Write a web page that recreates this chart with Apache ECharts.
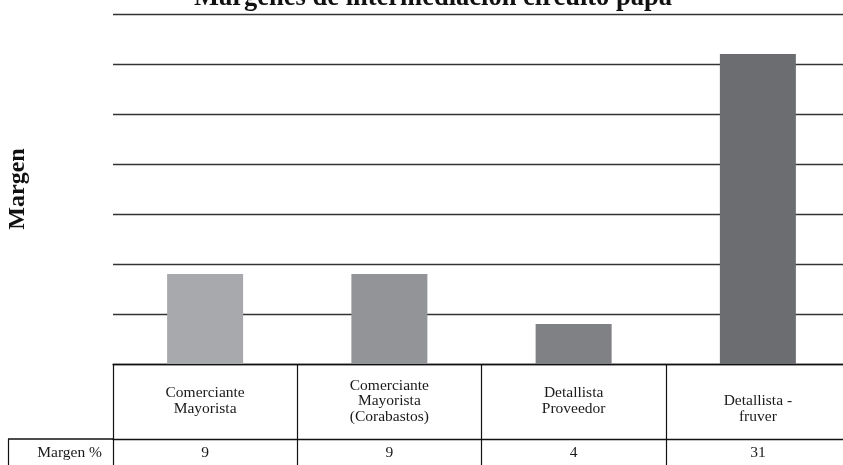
<!DOCTYPE html>
<html>
<head>
<meta charset="utf-8">
<script src="https://cdn.jsdelivr.net/npm/echarts@6/dist/echarts.min.js"></script>
<style>
  html, body { margin: 0; padding: 0; background: #ffffff; }
  #chart { width: 843px; height: 465px; }
</style>
</head>
<body>
<div id="chart"></div>
<script>
// Actors along the potato supply chain and their intermediation margin (%)
const categories = [
  'Comerciante\nMayorista',
  'Comerciante\nMayorista\n(Corabastos)',
  'Detallista\nProveedor',
  'Detallista -\nfruver'
];
const margins = [9, 9, 4, 31];
const barColors = ['#A8A9AC', '#939497', '#808184', '#6C6D71'];
const rowLabel = 'Margen %';
const chartTitle = 'Márgenes de intermediación circuito papa';
const axisTitle = 'Margen';
const yMax = 35;
const yStep = 5;

const serif = '"Liberation Serif", "Times New Roman", serif';
const ink = '#1a1a1a';

const chart = echarts.init(document.getElementById('chart'), null, { renderer: 'canvas' });

const lastCategory = categories[categories.length - 1];

chart.setOption({
  animation: false,
  backgroundColor: '#ffffff',
  title: {
    text: chartTitle,
    left: 428,
    textAlign: 'center',
    top: -20,
    textStyle: {
      fontFamily: serif,
      fontSize: 26.5,
      fontWeight: 'bold',
      color: '#111',
      lineHeight: 27
    }
  },
  grid: {
    left: 113,
    right: -7,
    top: 14,
    bottom: 101,
    containLabel: false,
    outerBoundsMode: 'none'
  },
  xAxis: [
    {
      // header row of the data table: category names between vertical rules
      type: 'category',
      data: categories,
      position: 'bottom',
      boundaryGap: true,
      axisLine: { show: true, lineStyle: { color: '#111', width: 1.3 } },
      axisTick: { show: true, interval: 0, length: 75, lineStyle: { color: '#111', width: 1.2 } },
      axisLabel: {
        interval: 0,
        margin: 37,
        verticalAlign: 'middle',
        fontFamily: serif,
        fontSize: 15.5,
        lineHeight: 15.5,
        color: ink,
        // the last cell's text sits half a line lower
        formatter: (v) => (v === lastCategory ? '\n' + v : v)
      },
      splitLine: { show: false }
    },
    {
      // value row of the data table
      type: 'category',
      data: margins.map(v => String(v)),
      position: 'bottom',
      offset: 75,
      boundaryGap: true,
      axisLine: { show: true, lineStyle: { color: '#111', width: 1.3 } },
      axisTick: { show: true, interval: 0, length: 30, lineStyle: { color: '#111', width: 1.2 } },
      axisLabel: {
        interval: 0,
        margin: 14,
        verticalAlign: 'middle',
        fontFamily: serif,
        fontSize: 15.5,
        color: ink
      },
      splitLine: { show: false }
    }
  ],
  yAxis: {
    type: 'value',
    min: 0,
    max: yMax,
    interval: yStep,
    name: axisTitle,
    nameLocation: 'middle',
    nameGap: 83,
    nameRotate: 90,
    nameTextStyle: {
      fontFamily: serif,
      fontSize: 24,
      fontWeight: 'bold',
      color: '#111'
    },
    axisLine: { show: false },
    axisTick: { show: false },
    axisLabel: { show: false },
    splitLine: { show: true, lineStyle: { color: '#333', width: 1.3 } }
  },
  graphic: [
    // left header cell of the value row
    {
      type: 'line',
      shape: { x1: 8, y1: 439, x2: 113, y2: 439 },
      style: { stroke: '#111', lineWidth: 1.3 },
      silent: true
    },
    {
      type: 'line',
      shape: { x1: 8.5, y1: 439, x2: 8.5, y2: 470 },
      style: { stroke: '#111', lineWidth: 1.2 },
      silent: true
    },
    {
      type: 'text',
      x: 102,
      y: 453,
      style: {
        text: rowLabel,
        fontFamily: serif,
        fontSize: 15.5,
        fill: ink,
        align: 'right',
        verticalAlign: 'middle'
      },
      silent: true
    }
  ],
  series: [
    {
      type: 'bar',
      xAxisIndex: 0,
      barWidth: 76,
      data: margins.map((v, i) => ({ value: v, itemStyle: { color: barColors[i] } })),
      label: { show: false },
      z: 3
    }
  ]
});
</script>
</body>
</html>
